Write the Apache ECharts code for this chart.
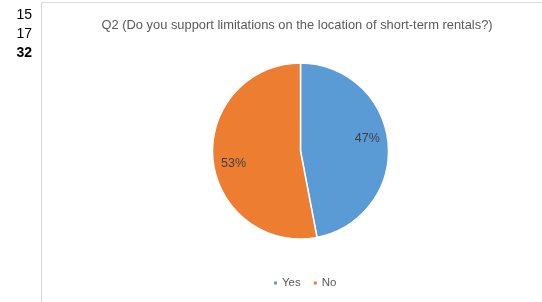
<!DOCTYPE html>
<html>
<head>
<meta charset="utf-8">
<script src="https://cdn.jsdelivr.net/npm/echarts@6/dist/echarts.min.js"></script>
<style>
  html, body { margin: 0; padding: 0; background: #fff; }
  #chart { width: 542px; height: 302px; }
</style>
</head>
<body>
<div id="chart"></div>
<script>
// answers to Q2
var categories = ['Yes', 'No'];
var shares = [47, 53];
var colors = ['#5B9BD5', '#ED7D31'];
// numbers shown at the left margin
var sideNumbers = ['15', '17', '32'];

var titleText = 'Q2 (Do you support limitations on the location of short-term rentals?)';

var pieData = [];
for (var i = 0; i < categories.length; i++) {
    pieData.push({ name: categories[i], value: shares[i], itemStyle: { color: colors[i] } });
}

var sideText = [];
for (var j = 0; j < sideNumbers.length; j++) {
    sideText.push({
        type: 'text',
        right: 510,
        top: 8.5 + j * 19,
        style: {
            text: sideNumbers[j],
            font: (j == sideNumbers.length - 1 ? 'bold ' : '') + '14px "Liberation Sans", Arial, sans-serif',
            fill: '#000',
            textAlign: 'right'
        }
    });
}

var myChart = echarts.init(document.getElementById('chart'), null, { renderer: 'canvas' });

var option = {
    animation: false,
    backgroundColor: '#fff',
    title: {
        text: titleText,
        left: 292,
        top: 14,
        textAlign: 'center',
        textStyle: {
            color: '#595959',
            fontSize: 12.9,
            fontWeight: 'normal',
            fontFamily: '"Liberation Sans", Arial, sans-serif'
        }
    },
    legend: {
        data: categories,
        top: 272,
        left: 267,
        icon: 'rect',
        itemWidth: 5,
        itemHeight: 5,
        itemGap: 11,
        textStyle: {
            color: '#595959',
            fontSize: 11.5,
            padding: [0, 0, 0, -1],
            fontFamily: '"Liberation Sans", Arial, sans-serif'
        }
    },
    graphic: [
        {
            type: 'rect',
            shape: { x: 41.5, y: 2.5, width: 600, height: 400 },
            style: { fill: 'none', stroke: '#d9d9d9', lineWidth: 1 },
            silent: true
        }
    ].concat(sideText),
    series: [
        {
            type: 'pie',
            center: [300.5, 151],
            radius: 88,
            startAngle: 90,
            clockwise: true,
            data: pieData,
            label: { show: false },
            labelLine: { show: false },
            itemStyle: { borderColor: '#fff', borderWidth: 1.5 },
            silent: true
        },
        {
            // transparent ring only used to place labels at ~3/4 radius
            type: 'pie',
            center: [300.5, 151],
            radius: [42, 88],
            startAngle: 95,
            clockwise: true,
            data: pieData.map(function (d) {
                return { name: d.name, value: d.value, itemStyle: { color: 'rgba(0,0,0,0)' } };
            }),
            label: {
                show: true,
                position: 'inside',
                formatter: '{c}%',
                color: '#404040',
                fontSize: 12.5,
                fontFamily: '"Liberation Sans", Arial, sans-serif'
            },
            labelLine: { show: false },
            silent: true
        }
    ]
};

myChart.setOption(option);
</script>
</body>
</html>
